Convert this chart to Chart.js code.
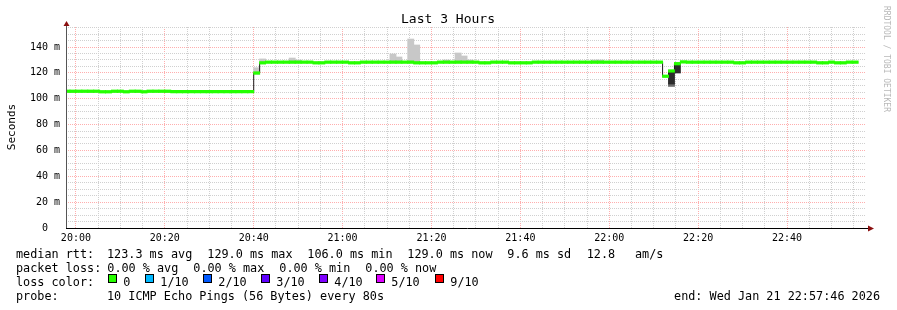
<!DOCTYPE html>
<html>
<head>
<meta charset="utf-8">
<script src="https://cdn.jsdelivr.net/npm/chart.js@4.4.1/dist/chart.umd.min.js"></script>
<style>
  html, body { margin: 0; padding: 0; background: #fff; }
  #wrap { width: 897px; height: 310px; }
</style>
</head>
<body>
<div id="wrap"><canvas id="c" width="897" height="310"></canvas></div>
<script>
// time axis: minutes relative to 20:00, one bin = 80 s probe step
const stepMin = 4 / 3;
const firstBin = -2;
const viewStart = -2 - 14 / 60;   // 19:57:46
const viewEnd = viewStart + 180;  // 22:57:46

// median rtt per bin (ms), bins -2 .. 131
const medianRtt = [
  105.8, 105.8, 105.8, 105.8, 105.8, 105.8, 105.4, 105.4, 105.8, 105.8,
  105.4, 105.8, 105.8, 105.4, 105.8, 105.8, 105.8, 105.8, 105.5, 105.5,
  105.5, 105.5, 105.5, 105.5, 105.5, 105.5, 105.5, 105.5, 105.5, 105.5,
  105.5, 105.5, 119.9, 127.8, 128.3, 128.3, 128.3, 128.3, 128.3, 128.3,
  128.3, 128.3, 127.8, 127.8, 128.3, 128.3, 128.3, 128.3, 127.8, 127.8,
  128.3, 128.3, 128.3, 128.3, 128.3, 128.3, 128.3, 128.3, 128.3, 127.8,
  127.8, 127.8, 127.8, 128.3, 128.3, 128.3, 128.3, 128.3, 128.3, 128.3,
  127.8, 127.8, 128.3, 128.3, 128.3, 127.8, 127.8, 127.8, 127.8, 128.3,
  128.3, 128.3, 128.3, 128.3, 128.3, 128.3, 128.3, 128.3, 128.3, 128.3,
  128.3, 128.3, 128.3, 128.3, 128.3, 128.3, 128.3, 128.3, 128.3, 128.3,
  128.3, 117.4, 121.5, 127.1, 128.5, 128.3, 128.3, 128.3, 128.3, 128.3,
  128.3, 128.3, 128.3, 127.8, 127.8, 128.3, 128.3, 128.3, 128.3, 128.3,
  128.3, 128.3, 128.3, 128.3, 128.3, 128.3, 128.3, 127.8, 127.8, 128.3,
  127.8, 127.8, 128.3, 128.3
];

// smoke (ping spread) where it shows outside the median band
const smokeBins = [-1, 2, 10, 15, 30, 31, 36, 37, 53, 54, 56, 57, 62, 64, 65, 66, 87, 88];
const smokeLo = [104.8, 104.8, 104.8, 104.8, 119.0, 127.5, 127.8, 127.8, 127.8, 127.8, 127.8, 127.5, 127.8, 127.8, 127.8, 127.8, 127.8, 127.8];
const smokeHi = [105.8, 105.8, 105.8, 105.8, 124.0, 130.8, 131.5, 130.0, 134.6, 132.3, 146.2, 141.6, 130.0, 135.4, 133.1, 130.0, 130.0, 130.0];
const midBins = [100];
const midLo = [109.5];
const midHi = [111.6];
const darkBins = [100, 101];
const darkLo = [111.4, 119.9];
const darkHi = [121.5, 127.7];

const xTickLabels = ['20:00', '20:20', '20:40', '21:00', '21:20', '21:40', '22:00', '22:20', '22:40'];
const yTickLabels = ['0', '20 m', '40 m', '60 m', '80 m', '100 m', '120 m', '140 m'];

const lossLabels = ['0', '1/10', '2/10', '3/10', '4/10', '5/10', '9/10'];
const lossColors = ['#26ff00', '#00b8ff', '#0059ff', '#5e00ff', '#7e00ff', '#dd00ff', '#ff0000'];

const mono = '"DejaVu Sans Mono", monospace';
const bandHalf = 1.0;

function binCenter(k) { return k * stepMin + stepMin / 2; }

const greenBand = medianRtt.map((v, i) => ({ x: binCenter(firstBin + i), y: [v - bandHalf, v + bandHalf] }));
const medianLine = medianRtt.map((v, i) => ({ x: (firstBin + i) * stepMin, y: v }));
medianLine.push({ x: (firstBin + medianRtt.length) * stepMin, y: medianRtt[medianRtt.length - 1] });
const smoke = smokeBins.map((k, i) => ({ x: binCenter(k), y: [smokeLo[i], smokeHi[i]] }));
const mid = midBins.map((k, i) => ({ x: binCenter(k), y: [midLo[i], midHi[i]] }));
const dark = darkBins.map((k, i) => ({ x: binCenter(k), y: [darkLo[i], darkHi[i]] }));

const majorGrid = 'rgba(255,120,120,0.6)';
const minorGrid = '#d0d0d0';

function put(ctx, s, x, y, size, align, color) {
  ctx.font = size + 'px ' + mono;
  ctx.textAlign = align || 'left';
  ctx.textBaseline = 'middle';
  ctx.fillStyle = color || '#000';
  ctx.fillText(s, x, y);
}

const decor = {
  id: 'decor',
  afterDatasetsDraw(chart) {
    const { ctx, chartArea: a } = chart;
    ctx.save();
    ctx.lineWidth = 1;
    ctx.strokeStyle = '#555';
    ctx.beginPath();
    ctx.moveTo(a.left + 0.5, a.bottom + 1);
    ctx.lineTo(a.left + 0.5, a.top - 3);
    ctx.stroke();
    ctx.strokeStyle = '#000';
    ctx.beginPath();
    ctx.moveTo(a.left, a.bottom + 0.5);
    ctx.lineTo(a.right + 3, a.bottom + 0.5);
    ctx.stroke();
    // arrows
    ctx.fillStyle = '#8b1010';
    ctx.beginPath();
    ctx.moveTo(a.left + 0.5, a.top - 6);
    ctx.lineTo(a.left - 2.5, a.top - 1);
    ctx.lineTo(a.left + 3.5, a.top - 1);
    ctx.closePath();
    ctx.fill();
    ctx.beginPath();
    ctx.moveTo(a.right + 8, a.bottom + 0.5);
    ctx.lineTo(a.right + 2, a.bottom - 2.5);
    ctx.lineTo(a.right + 2, a.bottom + 3.5);
    ctx.closePath();
    ctx.fill();
    ctx.restore();
  },
  afterDraw(chart) {
    const ctx = chart.ctx;
    ctx.save();
    put(ctx, 'Last 3 Hours', 448, 19.5, 13, 'center');

    ctx.save();
    ctx.translate(12, 127);
    ctx.rotate(-Math.PI / 2);
    put(ctx, 'Seconds', 0, 0, 11, 'center');
    ctx.restore();

    ctx.save();
    ctx.translate(886, 59);
    ctx.rotate(Math.PI / 2);
    put(ctx, 'RRDTOOL / TOBI OETIKER', 0, 0, 8, 'center', '#b8b8b8');
    ctx.restore();

    const fs = 11.8;
    const rows = [254.5, 268.5, 282.5, 296.5];
    put(ctx, 'median rtt:', 16, rows[0], fs);
    put(ctx, '123.3 ms avg', 107, rows[0], fs);
    put(ctx, '129.0 ms max', 207.3, rows[0], fs);
    put(ctx, '106.0 ms min', 307.3, rows[0], fs);
    put(ctx, '129.0 ms now', 407.3, rows[0], fs);
    put(ctx, '9.6 ms sd', 507.3, rows[0], fs);
    put(ctx, '12.8', 586.7, rows[0], fs);
    put(ctx, 'am/s', 635, rows[0], fs);

    put(ctx, 'packet loss:', 16, rows[1], fs);
    put(ctx, '0.00 % avg', 107.3, rows[1], fs);
    put(ctx, '0.00 % max', 193.3, rows[1], fs);
    put(ctx, '0.00 % min', 279.3, rows[1], fs);
    put(ctx, '0.00 % now', 365.3, rows[1], fs);

    put(ctx, 'loss color:', 16, rows[2], fs);
    const boxX = [108.5, 145.5, 203.5, 261.5, 319.5, 376.5, 435.5];
    lossLabels.forEach((l, i) => {
      ctx.fillStyle = lossColors[i];
      ctx.fillRect(boxX[i], 274.5, 8, 8);
      ctx.strokeStyle = '#000';
      ctx.lineWidth = 1;
      ctx.strokeRect(boxX[i], 274.5, 8, 8);
      put(ctx, l, boxX[i] + 14.8, rows[2], fs);
    });

    put(ctx, 'probe:', 16, rows[3], fs);
    put(ctx, '10 ICMP Echo Pings (56 Bytes) every 80s', 107, rows[3], fs);
    put(ctx, 'end: Wed Jan 21 22:57:46 2026', 880, rows[3], fs, 'right');
    ctx.restore();
  }
};

new Chart(document.getElementById('c'), {
  type: 'line',
  data: {
    datasets: [
      { type: 'bar', data: greenBand, backgroundColor: '#26ff00', barThickness: 6.2, grouped: false, order: 0 },
      { type: 'line', data: medianLine, borderColor: '#1a1a1a', borderWidth: 1, pointRadius: 0, stepped: 'before', order: 1 },
      { type: 'bar', data: dark, backgroundColor: '#2c2c2c', barThickness: 6.2, grouped: false, order: 2 },
      { type: 'bar', data: mid, backgroundColor: '#6e6e6e', barThickness: 6.2, grouped: false, order: 3 },
      { type: 'bar', data: smoke, backgroundColor: '#c8c8c8', barThickness: 6.2, grouped: false, order: 4 }
    ]
  },
  options: {
    responsive: false,
    animation: false,
    devicePixelRatio: 1,
    layout: { padding: { left: 0, top: 27, right: 31, bottom: 0 } },
    plugins: { legend: { display: false }, tooltip: { enabled: false }, title: { display: false } },
    scales: {
      x: {
        type: 'linear',
        min: viewStart,
        max: viewEnd,
        offset: false,
        afterFit: (s) => { s.height = 82; },
        afterBuildTicks: (s) => {
          const t = [];
          for (let v = 0; v <= 175; v += 5) t.push({ value: v });
          s.ticks = t;
        },
        grid: {
          offset: false,
          drawTicks: false,
          color: (c) => (c.tick && c.tick.value % 20 === 0 ? majorGrid : minorGrid)
        },
        border: { display: false, dash: [1, 1] },
        ticks: {
          autoSkip: false,
          maxRotation: 0,
          padding: 4,
          color: '#000',
          font: { family: mono, size: 10 },
          callback: (v) => (v % 20 === 0 ? xTickLabels[v / 20] : '')
        }
      },
      y: {
        type: 'linear',
        min: 0,
        max: 155.5,
        afterFit: (s) => { s.width = 66; },
        afterBuildTicks: (s) => {
          const t = [];
          for (let v = 0; v <= 155; v += 5) t.push({ value: v });
          s.ticks = t;
        },
        grid: {
          drawTicks: false,
          color: (c) => (c.tick && c.tick.value % 20 === 0 ? majorGrid : minorGrid)
        },
        border: { display: false, dash: [1, 1] },
        ticks: {
          autoSkip: false,
          padding: 6,
          color: '#000',
          font: { family: mono, size: 10 },
          callback: (v) => (v % 20 === 0 ? (v === 0 ? yTickLabels[0] + '  ' : yTickLabels[v / 20]) : '')
        }
      }
    }
  },
  plugins: [decor]
});
</script>
</body>
</html>
